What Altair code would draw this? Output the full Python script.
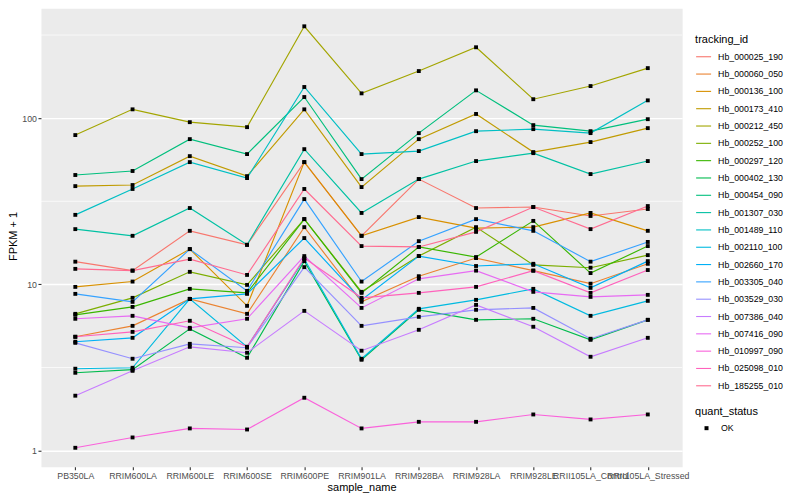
import altair as alt
import pandas as pd

samples = ["PB350LA", "RRIM600LA", "RRIM600LE", "RRIM600SE", "RRIM600PE", "RRIM901LA",
           "RRIM928BA", "RRIM928LA", "RRIM928LE", "RRII105LA_Control", "RRII105LA_Stressed"]

tracking_ids = ["Hb_000025_190", "Hb_000060_050", "Hb_000136_100", "Hb_000173_410",
                "Hb_000212_450", "Hb_000252_100", "Hb_000297_120", "Hb_000402_130",
                "Hb_000454_090", "Hb_001307_030", "Hb_001489_110", "Hb_002110_100",
                "Hb_002660_170", "Hb_003305_040", "Hb_003529_030", "Hb_007386_040",
                "Hb_007416_090", "Hb_010997_090", "Hb_025098_010", "Hb_185255_010"]

colors = ["#F8766D", "#EA8331", "#D89000", "#C09B00", "#A3A500", "#7CAE00", "#39B600",
          "#00BB4E", "#00BF7D", "#00C1A3", "#00BFC4", "#00BAE0", "#00B0F6", "#35A2FF",
          "#9590FF", "#C77CFF", "#E76BF3", "#FA62DB", "#FF62BC", "#FF6C91"]

# FPKM + 1 per sample, one list per tracking_id
Hb_000025_190 = [13.7, 12.1, 21.0, 17.3, 54.4, 19.6, 43.0, 28.8, 29.2, 25.8, 28.4]
Hb_000060_050 = [4.84, 5.63, 8.18, 6.65, 22.1, 7.85, 11.2, 14.4, 12.1, 10.1, 13.3]
Hb_000136_100 = [9.66, 10.4, 16.3, 7.43, 54.4, 19.6, 25.4, 21.8, 22.1, 26.9, 21.0]
Hb_000173_410 = [39.0, 39.6, 59.1, 44.8, 113, 38.5, 74.8, 106, 62.5, 71.8, 87.1]
Hb_000212_450 = [79.1, 113, 94.6, 88.3, 357, 141, 192, 267, 130, 156, 200]
Hb_000252_100 = [6.65, 8.30, 11.9, 9.93, 24.7, 9.02, 14.8, 22.1, 13.1, 12.6, 15.0]
Hb_000297_120 = [6.56, 7.32, 9.40, 8.89, 24.7, 8.89, 16.8, 14.6, 24.1, 11.7, 17.0]
Hb_000402_130 = [2.94, 3.07, 5.40, 3.62, 13.8, 3.52, 7.03, 6.12, 6.21, 4.64, 6.12]
Hb_000454_090 = [45.5, 48.1, 74.8, 60.8, 134, 43.0, 81.3, 147, 90.8, 83.5, 98.6]
Hb_001307_030 = [21.5, 19.6, 28.8, 17.3, 65.1, 26.9, 43.0, 55.2, 61.6, 46.1, 55.2]
Hb_001489_110 = [26.2, 37.5, 54.4, 43.6, 154, 60.8, 63.4, 83.5, 85.9, 81.3, 128]
Hb_002110_100 = [3.11, 3.15, 8.18, 4.21, 14.2, 3.57, 7.13, 8.07, 9.40, 6.47, 7.96]
Hb_002660_170 = [4.52, 4.77, 8.18, 8.77, 19.0, 8.07, 14.8, 12.9, 13.3, 9.53, 13.8]
Hb_003305_040 = [8.77, 7.85, 16.3, 9.14, 32.6, 10.4, 18.2, 24.7, 21.0, 13.7, 18.0]
Hb_003529_030 = [4.45, 3.57, 4.39, 4.16, 12.7, 5.63, 6.38, 7.03, 7.22, 4.71, 6.12]
Hb_007386_040 = [2.14, 3.02, 4.21, 3.88, 6.93, 3.99, 5.33, 7.53, 5.56, 3.67, 4.77]
Hb_007416_090 = [6.21, 6.47, 5.48, 6.21, 14.8, 7.22, 10.8, 12.1, 9.02, 8.41, 8.65]
Hb_010997_090 = [1.04, 1.20, 1.36, 1.34, 2.08, 1.36, 1.49, 1.49, 1.65, 1.54, 1.65]
Hb_025098_010 = [4.84, 5.18, 6.04, 4.21, 14.4, 8.30, 8.89, 9.66, 12.1, 8.89, 12.2]
Hb_185255_010 = [12.4, 12.1, 14.2, 11.4, 37.5, 17.0, 16.8, 20.7, 29.2, 21.5, 29.6]

series = [Hb_000025_190, Hb_000060_050, Hb_000136_100, Hb_000173_410, Hb_000212_450,
          Hb_000252_100, Hb_000297_120, Hb_000402_130, Hb_000454_090, Hb_001307_030,
          Hb_001489_110, Hb_002110_100, Hb_002660_170, Hb_003305_040, Hb_003529_030,
          Hb_007386_040, Hb_007416_090, Hb_010997_090, Hb_025098_010, Hb_185255_010]

y_breaks = [1, 10, 100]
minor_breaks = [3.1623, 31.623, 316.23]

rows = []
for tid, vals in zip(tracking_ids, series):
    for i, (s, v) in enumerate(zip(samples, vals)):
        rows.append({"tracking_id": tid, "sample_name": s, "fpkm1": v,
                     "quant_status": "OK", "idx": i})
df = pd.DataFrame(rows)

FONT = "Liberation Sans"

x_enc = alt.X("sample_name:N", sort=samples,
              scale=alt.Scale(type="point", padding=0.6),
              axis=alt.Axis(title="sample_name", labelAngle=0, labelOverlap=False,
                            titleX=321, titleY=21, titleBaseline="middle",
                            titleAlign="center"))
y_enc = alt.Y("fpkm1:Q",
              scale=alt.Scale(type="log", domain=[0.80, 458], nice=False),
              axis=alt.Axis(title="FPKM + 1", values=y_breaks, format="d",
                            titleX=-27, titleY=228, titleBaseline="middle",
                            titleAlign="center"))

minor = alt.Chart(pd.DataFrame({"fpkm1": minor_breaks})).mark_rule(
    color="white", strokeWidth=0.7).encode(y=y_enc)

lines = alt.Chart(df).mark_line(strokeWidth=1.15).encode(
    x=x_enc, y=y_enc,
    color=alt.Color("tracking_id:N",
                    scale=alt.Scale(domain=tracking_ids, range=colors),
                    legend=alt.Legend(title="tracking_id", orient="none",
                                      legendX=655, legendY=26,
                                      symbolType="stroke", symbolSize=225,
                                      symbolStrokeWidth=1.1, padding=0,
                                      titlePadding=3, labelOffset=6, rowPadding=3.34)),
    order=alt.Order("idx:Q"))

points = alt.Chart(df).mark_point(filled=True, size=15, opacity=1, strokeWidth=0).encode(
    x=x_enc, y=y_enc,
    shape=alt.Shape("quant_status:N",
                    scale=alt.Scale(domain=["OK"], range=["square"]),
                    legend=alt.Legend(title="quant_status", orient="none",
                                      legendX=655, legendY=398,
                                      symbolSize=16, symbolFillColor="black",
                                      symbolStrokeWidth=0, symbolOffset=7,
                                      padding=0, titlePadding=7, labelOffset=10)),
    color=alt.value("black"))

chart = alt.layer(minor, lines, points).properties(
    width=642, height=459,
    autosize=alt.AutoSizeParams(type="none"),
    padding={"left": 33, "top": 0, "right": 110, "bottom": 28},
    background="white",
).configure_view(
    fill="#EBEBEB", stroke="transparent"
).configure_axis(
    labelFont=FONT, labelFontSize=8.8, labelColor="#4D4D4D",
    titleFont=FONT, titleFontSize=11, titleColor="black", titleFontWeight="normal",
    tickColor="#333333", tickSize=3, tickWidth=1.1, domain=False,
    gridColor="white", gridWidth=1.4, labelPadding=1.5
).configure_legend(
    labelFont=FONT, labelFontSize=8.8, labelColor="black",
    titleFont=FONT, titleFontSize=11, titleColor="black", titleFontWeight="normal"
)

chart.save("out.html", embed_options={"renderer": "svg", "actions": False})
